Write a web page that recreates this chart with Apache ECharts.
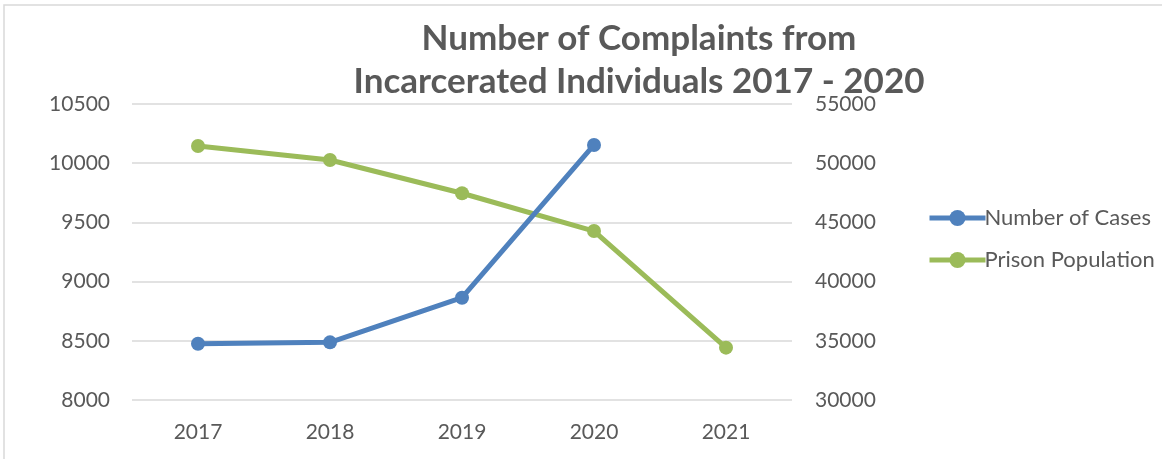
<!DOCTYPE html>
<html>
<head>
<meta charset="utf-8">
<script src="https://cdn.jsdelivr.net/npm/echarts@6/dist/echarts.min.js"></script>
<style>
  html, body { margin: 0; padding: 0; background: #ffffff; }
  #chart { width: 1162px; height: 459px; }
</style>
</head>
<body>
<div id="chart"></div>
<script>
// Yearly complaint counts (left axis) and prison population (right axis)
const years = ['2017', '2018', '2019', '2020', '2021'];
const numberOfCases = [8475, 8487, 8864, 10154, null];
const prisonPopulation = [51450, 50270, 47460, 44270, 34420];

const casesTicks = { min: 8000, max: 10500, interval: 500 };
const populationTicks = { min: 30000, max: 55000, interval: 5000 };

const textGray = '#595959';
const gridGray = '#d9d9d9';
const font = 'Lato, "Open Sans", sans-serif';
const plainNumber = v => String(v);

const chart = echarts.init(document.getElementById('chart'), null, { renderer: 'canvas' });

chart.setOption({
  backgroundColor: '#ffffff',
  animation: false,
  graphic: [{
    type: 'rect',
    shape: { x: 4, y: 5, width: 1300, height: 600 },
    style: { fill: 'none', stroke: gridGray, lineWidth: 1.5 },
    silent: true
  }],
  title: {
    text: 'Number of Complaints from\nIncarcerated Individuals 2017 - 2020',
    left: 634,
    top: 12,
    textAlign: 'center',
    textStyle: {
      fontFamily: font,
      fontWeight: 'bold',
      fontSize: 35,
      lineHeight: 43,
      color: textGray
    }
  },
  legend: {
    orient: 'vertical',
    left: 922,
    top: 202,
    itemWidth: 56,
    itemHeight: 20,
    itemGap: 20,
    lineStyle: { width: 5 },
    textStyle: { fontFamily: font, fontSize: 22, color: textGray, lineHeight: 22, padding: [0, 0, 0, -6] },
    data: ['Number of Cases', 'Prison Population']
  },
  grid: { left: 132, right: 370, top: 104, bottom: 59, containLabel: false },
  xAxis: {
    type: 'category',
    data: years,
    boundaryGap: true,
    axisLine: { show: false },
    axisTick: { show: false },
    axisLabel: { fontFamily: font, fontSize: 21, color: textGray, margin: 22 }
  },
  yAxis: [
    {
      type: 'value',
      min: casesTicks.min,
      max: casesTicks.max,
      interval: casesTicks.interval,
      axisLine: { show: false },
      axisTick: { show: false },
      splitLine: { lineStyle: { color: gridGray, width: 1.5 } },
      axisLabel: { fontFamily: font, fontSize: 21, color: textGray, margin: 22, formatter: plainNumber }
    },
    {
      type: 'value',
      min: populationTicks.min,
      max: populationTicks.max,
      interval: populationTicks.interval,
      position: 'right',
      axisLine: { show: false },
      axisTick: { show: false },
      splitLine: { show: false },
      axisLabel: { fontFamily: font, fontSize: 21, color: textGray, margin: 23, formatter: plainNumber }
    }
  ],
  series: [
    {
      name: 'Number of Cases',
      type: 'line',
      yAxisIndex: 0,
      data: numberOfCases,
      z: 3,
      symbol: 'circle',
      symbolSize: 14,
      lineStyle: { width: 5, color: '#4f81bd' },
      itemStyle: { color: '#4f81bd' }
    },
    {
      name: 'Prison Population',
      type: 'line',
      yAxisIndex: 1,
      data: prisonPopulation,
      z: 2,
      symbol: 'circle',
      symbolSize: 14,
      lineStyle: { width: 5, color: '#9bbb59' },
      itemStyle: { color: '#9bbb59' }
    }
  ]
});
</script>
</body>
</html>
